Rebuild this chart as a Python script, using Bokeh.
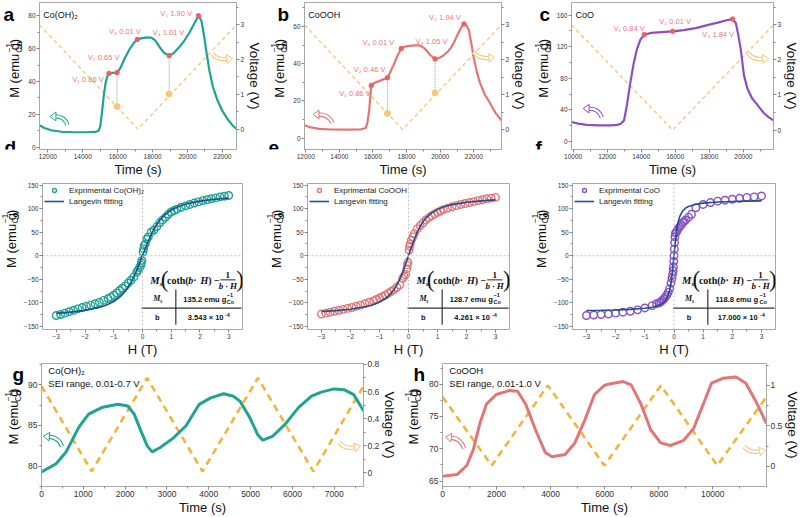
import math
from bokeh.plotting import figure
from bokeh.models import Range1d, LinearAxis, FixedTicker, Label, Span, Legend, LegendItem
from bokeh.layouts import column, row
from bokeh.embed import file_html
from bokeh.resources import INLINE

FONT = "Liberation Sans"
SERIF = "Liberation Serif"

# ---------------- data ----------------
# (a) Co(OH)2
a_time = [11520, 11800, 12200, 12800, 13500, 14200, 14700, 14900, 15000, 15100, 15200, 15300, 15400, 15503,
          15700, 15963, 16150, 16400, 16700, 16950, 17125, 17400, 17700, 17950, 18150, 18400, 18650, 18950,
          19200, 19500, 19800, 20100, 20400, 20633, 20800, 20950, 21100, 21250, 21450, 21700, 22000, 22300,
          22600, 22810]
a_M = [13.3, 11.6, 10.2, 9.3, 9.0, 9.0, 9.2, 9.8, 12.5, 21, 31, 38.5, 43, 44.9,
       45.2, 45.4, 48, 54, 60, 63.8, 65.6, 66.4, 66.8, 66.6, 65, 61, 57.5, 55.7,
       57.2, 60.5, 64.5, 69.5, 75.5, 80.0, 77, 68, 57, 47, 37, 29, 22, 17,
       13, 11]
a_vt = [11520, 17165, 22810]
a_vv = [3.0, 0.0, 3.0]
a_pt_t = [15503, 15963, 17125, 18950, 20633]
a_pt_M = [44.9, 45.4, 65.6, 55.7, 80.0]
a_pt_V = [0.86, 0.65, 0.01, 1.01, 1.90]
a_guides = [1, 3]

# (b) CoOOH
b_time = [11925, 12300, 12800, 13500, 14500, 15300, 15582, 15680, 15772, 15850, 15904, 16059, 16400, 16862,
          17050, 17207, 17494, 17683, 17900, 18165, 18500, 18739, 18950, 19118, 19405, 19692, 19950, 20175,
          20450, 20651, 20850, 21036, 21250, 21415, 21560, 21702, 21850, 21989, 22180, 22373, 22650, 22947,
          23300, 23636]
b_M = [7.0, 5.8, 5.0, 4.7, 4.6, 4.8, 5.5, 9, 15, 23, 28.4, 29.6, 30.8, 32.5,
       36, 39, 45, 48.2, 49.2, 49.6, 49.9, 49.9, 49, 47.8, 44.7, 42.6, 43.2, 44.3,
       46.5, 48.7, 52, 55.7, 59.5, 61.4, 60.5, 58.3, 51, 43.5, 35.5, 29.6, 23.5, 19.1,
       13.5, 9.6]
b_vt = [11925, 17760, 23640]
b_vv = [3.0, 0.0, 3.0]
b_pt_t = [15904, 16862, 17683, 19692, 21415]
b_pt_M = [28.4, 32.5, 48.2, 42.6, 61.4]
b_pt_V = [0.86, 0.46, 0.01, 1.05, 1.94]
b_guides = [1, 3]

# (c) CoO
c_time = [9903, 10300, 10800, 11500, 12200, 12600, 12800, 12989, 13150, 13371, 13550, 13749, 13950, 14189,
          14600, 15200, 15846, 16500, 17200, 17943, 18500, 19000, 19371, 19562, 19700, 19846, 20034, 20229,
          20500, 20800, 21200, 21500, 21771]
c_M = [24.6, 22.5, 21.0, 20.3, 20.3, 21.0, 22.5, 26.7, 45, 76, 98, 117, 129, 135.4,
       137.5, 138.5, 139.5, 141, 143.5, 147.7, 150.5, 153.5, 155, 149.7, 135, 117, 84, 67.7,
       55, 47, 36, 30.5, 26.7]
c_vt = [9903, 15846, 21780]
c_vv = [3.0, 0.0, 3.0]
c_pt_t = [14189, 15846, 19371]
c_pt_M = [135.4, 139.5, 155.0]
c_pt_V = [0.84, 0.01, 1.84]

# (d) Co(OH)2 M-H
d_H = [-3.0, -2.85, -2.7, -2.55, -2.4, -2.25, -2.1, -1.95, -1.8, -1.65, -1.5, -1.35, -1.2, -1.1, -1.0, -0.9,
       -0.8, -0.7, -0.6, -0.5, -0.4, -0.3, -0.2, -0.15, -0.1, -0.06, -0.04, -0.02, 0.02, 0.04, 0.06, 0.1,
       0.15, 0.2, 0.3, 0.4, 0.5, 0.6, 0.7, 0.8, 0.9, 1.0, 1.1, 1.2, 1.35, 1.5, 1.65, 1.8, 1.95, 2.1, 2.25,
       2.4, 2.55, 2.7, 2.85, 3.0]
d_M = [-127, -125, -122, -119, -116, -113, -110, -107.5, -105, -102, -99, -95, -91, -88, -84, -79,
       -74, -69, -64, -58, -52, -45, -35, -30, -25, -20, -15, -10, 8, 15, 22, 25,
       35, 40, 50, 55, 62, 70, 76, 82, 88, 93, 96, 99, 103, 106, 109, 112, 114.5, 117, 119,
       121, 123, 125, 126.5, 128]
d_fitH = [-3.0, -2.5, -2.0, -1.5, -1.25, -1.0, -0.75, -0.6, -0.5, -0.4, -0.3, -0.2, -0.1, 0.0,
          0.1, 0.2, 0.3, 0.4, 0.5, 0.6, 0.75, 1.0, 1.25, 1.5, 2.0, 2.5, 3.0]
d_fitM = [-122.5, -119.9, -116.1, -109.8, -104.7, -97.3, -85.6, -75.5, -66.9, -56.7, -44.6, -30.9, -15.8, 0.0,
          15.8, 30.9, 44.6, 56.7, 66.9, 75.5, 85.6, 97.3, 104.7, 109.8, 116.1, 119.9, 122.5]

# (e) CoOOH M-H
e_H = d_H
e_M = [-124, -122, -120, -118, -116, -114, -112, -110, -107.5, -105, -102, -99, -96, -93, -90, -87,
       -84, -80, -76, -72, -67, -62, -48, -44, -40, -28, -20, -14, 12, 20, 25, 33,
       40, 47, 57, 64, 70, 76, 81, 85, 89, 92, 95, 98, 101, 104, 106.5, 109, 111, 113, 115,
       117, 119, 121, 122.5, 124]
e_fitH = d_fitH
e_fitM = [-118.6, -116.6, -113.6, -108.6, -104.6, -98.5, -88.9, -79.9, -72.0, -62.0, -49.7, -34.9, -18.1, 0.0,
          18.1, 34.9, 49.7, 62.0, 72.0, 79.9, 88.9, 98.5, 104.6, 108.6, 113.6, 116.6, 118.6]

# (f) CoO M-H
f_H = [-3.0, -2.75, -2.5, -2.25, -2.0, -1.75, -1.5, -1.25, -1.0, -0.75, -0.6, -0.5, -0.45, -0.4, -0.35,
       -0.3, -0.25, -0.2, -0.15, -0.1, -0.07, -0.05, -0.03, -0.02, -0.01, 0.0, 0.01, 0.02, 0.03, 0.05,
       0.08, 0.11, 0.15, 0.2, 0.25, 0.3, 0.35, 0.4, 0.5, 0.6, 0.75, 1.0, 1.25, 1.5, 1.75, 2.0, 2.25,
       2.5, 2.75, 3.0]
f_M = [-127, -126, -125, -124, -122, -120, -118, -115, -111, -106, -102, -100, -98, -95, -92,
       -88, -84, -78, -70, -58, -48, -40, -32, -24, -12, 0, 14, 28, 40, 48,
       50, 54, 58, 62, 66, 70, 73, 76, 82, 88, 102, 109, 113, 116, 118, 120, 122,
       124, 125, 127]
f_fitH = [-3.0, -2.5, -2.0, -1.5, -1.0, -0.75, -0.5, -0.4, -0.3, -0.2, -0.15, -0.1, -0.05, -0.02, 0.0,
          0.02, 0.05, 0.1, 0.15, 0.2, 0.3, 0.4, 0.5, 0.75, 1.0, 1.5, 2.0, 2.5, 3.0]
f_fitM = [-116.5, -116.0, -115.3, -114.1, -111.8, -109.5, -104.8, -101.3, -95.5, -84.1, -73.7, -57.1, -32.1, -13.4, 0.0,
          13.4, 32.1, 57.1, 73.7, 84.1, 95.5, 101.3, 104.8, 109.5, 111.8, 114.1, 115.3, 116.0, 116.5]

ms_vals = ["135.2", "128.7", "118.8"]
b_vals = ["3.543", "4.261", "17.000"]

# (g) Co(OH)2 SEI cycling
g_time = [0, 350, 583, 739, 894, 1127, 1439, 1828, 2061, 2217, 2372, 2528, 2645, 2839, 3150, 3461, 3772,
          4044, 4356, 4589, 4744, 4978, 5172, 5289, 5522, 5833, 6144, 6456, 6689, 7000, 7233, 7466, 7700]
g_M = [79.3, 80.3, 81.7, 83.25, 84.8, 86.4, 87.2, 87.6, 87.4, 86.4, 84.4, 82.5, 81.75, 82.3, 83.45, 85.0, 87.6,
       88.4, 88.9, 88.6, 88.0, 86.0, 83.85, 83.2, 83.65, 85.2, 87.2, 88.6, 89.1, 89.5, 89.4, 88.8, 86.8]
g_vt = [0, 1200, 2525, 3850, 5175, 6500, 7700]
g_vv = [0.64, 0.01, 0.70, 0.01, 0.70, 0.01, 0.64]

# (h) CoOOH SEI cycling
h_time = [0, 535, 898, 1142, 1382, 1625, 1989, 2473, 2778, 3080, 3444, 3807, 4050, 4535, 4898, 5262, 5625,
          5989, 6135, 6680, 6982, 7345, 7709, 8073, 8436, 8924, 9287, 9651, 9953, 10378, 10862, 11225,
          11589, 11990]
h_M = [65.75, 66.0, 67.4, 69.9, 73.9, 76.9, 78.4, 79.0, 78.9, 76.9, 72.9, 69.4, 68.75, 69.1, 70.9, 74.4, 78.4,
       79.8, 80.0, 80.4, 79.9, 76.9, 72.9, 70.9, 70.5, 71.3, 73.1, 76.9, 80.15, 80.9, 81.1, 80.15,
       77.4, 73.9]
h_vt = [0, 1820, 3900, 5990, 8080, 10170, 11990]
h_vv = [0.86, 0.01, 1.0, 0.01, 1.0, 0.01, 0.86]

# ---------------- styling helpers ----------------
TEAL = "#1fa393"
RED = "#e27575"
PURPLE = "#8b4fc2"
ORANGE_L = "#f8c574"
ORANGE = "#f2b43a"
BLUE = "#1d4f91"
VLAB = "#f07878"

AW = {' ': .278, '(': .333, ')': .333, 'M': .833, 'e': .556, 'm': .833, 'u': .556, 'g': .556, 'C': .722,
      'o': .556, '−': .584, '-': .333, '.': .278, '×': .584, '1': .556, 'i': .222, 'l': .222, 't': .278,
      's': .5, 'c': .5, 'h': .556, 'b': .556, 'H': .722, 'V': .667, 'T': .611}
SW = {'c': .444, 'o': .5, 't': .333, 'h': .556, '(': .333, ')': .333, ' ': .25, '·': .25, '−': .57,
      '1': .5, 'b': .5, 'H': .778, 'M': .944, 's': .389}


def tw(s, size, k=1.0):
    return sum(AW.get(ch, .556) for ch in s) * size * k


def sw(s, size):
    return sum(SW.get(ch, .5) for ch in s) * size


class Mapper:
    def __init__(self, fl, ft, fr, fb, xr, yr):
        self.fl, self.ft, self.fr, self.fb = fl, ft, fr, fb
        self.xr, self.yr = xr, yr

    def d(self, X, Y):
        x0, x1 = self.xr
        y0, y1 = self.yr
        return (x0 + (X - self.fl) / (self.fr - self.fl) * (x1 - x0),
                y1 - (Y - self.ft) / (self.fb - self.ft) * (y1 - y0))


class Panel(Mapper):
    def __init__(self, ox, oy, w, h, fl, ft, fr, fb, xr, yr, vr=None):
        super().__init__(fl, ft, fr, fb, xr, yr)
        self.vr = vr
        p = figure(width=w, height=h, x_range=Range1d(*xr), y_range=Range1d(*yr),
                   output_backend="svg", toolbar_location=None,
                   min_border_left=fl - ox, min_border_right=ox + w - fr,
                   min_border_top=ft - oy, min_border_bottom=oy + h - fb)
        p.xgrid.visible = False
        p.ygrid.visible = False
        p.outline_line_color = "#a8a8a8"
        p.outline_line_width = 1
        p.background_fill_color = "white"
        p.border_fill_color = "white"
        self.vax = None
        if vr is not None:
            p.extra_y_ranges = {"v": Range1d(*vr)}
            ax = LinearAxis(y_range_name="v")
            p.add_layout(ax, "right")
            self.vax = ax
        self.p = p

    def v2m(self, v):
        y0, y1 = self.yr
        v0, v1 = self.vr
        return y0 + (v - v0) * (y1 - y0) / (v1 - v0)


class Strip:
    """A bare figure used only to hold text that sits outside a plot frame."""
    def __init__(self, ox, oy, w, h):
        s = figure(width=w, height=h, x_range=Range1d(0, w), y_range=Range1d(0, h),
                   output_backend="svg", toolbar_location=None, x_axis_type=None, y_axis_type=None,
                   min_border_left=0, min_border_right=0, min_border_top=0, min_border_bottom=0)
        s.outline_line_color = None
        s.background_fill_color = "white"
        s.border_fill_color = "white"
        self.p = s
        self.ox, self.oy, self.h = ox, oy, h

    def d(self, X, Y):
        return (X - self.ox, self.h - (Y - self.oy))


def style_axis(ax, ticks, minor, fs, title=None, tsize=13, tstand=0):
    ax.ticker = FixedTicker(ticks=ticks, minor_ticks=minor)
    ax.major_label_text_font_size = f"{fs}px"
    ax.major_label_text_font = FONT
    ax.major_label_text_color = "#333333"
    ax.axis_line_color = "#a8a8a8"
    ax.major_tick_line_color = "#888888"
    ax.minor_tick_line_color = "#888888"
    ax.major_tick_in = 0
    ax.major_tick_out = 3
    ax.minor_tick_in = 0
    ax.minor_tick_out = 2
    ax.major_label_standoff = 1
    if title:
        ax.axis_label = title
        ax.axis_label_text_font = FONT
        ax.axis_label_text_font_size = f"{tsize}px"
        ax.axis_label_text_font_style = "normal"
        ax.axis_label_text_color = "#111111"
        ax.axis_label_standoff = tstand


def lab(P, X, Y, text, size, color="#111111", align="left", base="middle", angle=0.0, font=FONT, style="normal"):
    x, y = P.d(X, Y)
    P.p.add_layout(Label(x=x, y=y, text=text, text_font=font, text_font_size=f"{size}px",
                         text_font_style=style, text_color=color, text_align=align,
                         text_baseline=base, angle=angle))


def mlabel(S, Xc, Yc, size=13):
    s2 = size * 0.66
    wm = tw("M (emu g", size)
    ws = max(tw("Co", s2), tw("−1", s2))
    wp = tw(")", size)
    L = wm + ws + wp
    start = Yc + L / 2
    A = start - wm
    lab(S, Xc, start, "M (emu g", size, angle=math.pi / 2)
    lab(S, Xc + 4.0, A, "Co", s2, angle=math.pi / 2)
    lab(S, Xc - 6.0, A, "−1", s2, angle=math.pi / 2)
    lab(S, Xc, A - ws - 0.5, ")", size, angle=math.pi / 2)


def curly(P, tail, ctrl, end, color):
    p = P.p
    x0, y0 = P.d(*tail)
    cx, cy = P.d(*ctrl)
    x1, y1 = P.d(*end)
    p.quadratic(x0=[x0], y0=[y0], x1=[x1], y1=[y1], cx=[cx], cy=[cy], line_color=color, line_width=4.4)
    p.quadratic(x0=[x0], y0=[y0], x1=[x1], y1=[y1], cx=[cx], cy=[cy], line_color="white", line_width=2.2)
    dx, dy = end[0] - ctrl[0], end[1] - ctrl[1]
    n = math.hypot(dx, dy)
    dx, dy = dx / n, dy / n
    px, py = -dy, dx
    tip = (end[0] + dx * 6, end[1] + dy * 6)
    b1 = (end[0] + px * 4.5, end[1] + py * 4.5)
    b2 = (end[0] - px * 4.5, end[1] - py * 4.5)
    pts = [P.d(*q) for q in (tip, b1, b2)]
    p.patch([q[0] for q in pts], [q[1] for q in pts], fill_color="white", line_color=color, line_width=1)


SUBS = "₁₂₃₄₅"

# ---------------- row 1: operando panels (y 0..179) ----------------
R1 = (0, 179)
row1 = []
specs1 = [
    dict(sx=0, sw=25, ox=25, w=240, fl=38, fr=242, xr=(11520, 22810), yr=(-1.5, 88.1), vr=(-0.587, 3.643),
         t=a_time, M=a_M, vt=a_vt, vv=a_vv, pt=a_pt_t, pM=a_pt_M, pV=a_pt_V, guides=a_guides,
         col=TEAL, name="Co(OH)₂", letter=("a", 3), letter2=("d", 4), mx=14,
         xt=[12000, 14000, 16000, 18000, 20000, 22000], yt=[0, 20, 40, 60, 80], ystep=10,
         vlabels=[(72, 81), (88, 58), (110, 32), (155, 33), (163, 13)],
         arrows=[((67, 128), (64, 119), (55, 119)), ((217, 55), (222, 61), (232, 60))]),
    dict(sx=265, sw=25, ox=290, w=240, fl=303, fr=507, xr=(11925, 23647), yr=(-6.05, 72.9), vr=(-0.574, 3.641),
         t=b_time, M=b_M, vt=b_vt, vv=b_vv, pt=b_pt_t, pM=b_pt_M, pV=b_pt_V, guides=b_guides,
         col=RED, name="CoOOH", letter=("b", 277), letter2=("e", 268), mx=279,
         xt=[12000, 14000, 16000, 18000, 20000, 22000], yt=[0, 20, 40, 60], ystep=10,
         vlabels=[(339, 95), (354, 71), (363, 43), (418, 42), (432, 17)],
         arrows=[((332, 126), (328, 117), (318, 117)), ((478, 53), (484, 60), (494, 59))]),
    dict(sx=530, sw=23, ox=553, w=250, fl=566, fr=773, xr=(9903, 21771), yr=(-10.2, 176.0), vr=(-0.555, 3.637),
         t=c_time, M=c_M, vt=c_vt, vv=c_vv, pt=c_pt_t, pM=c_pt_M, pV=c_pt_V, guides=[],
         col=PURPLE, name="CoO", letter=("c", 539), letter2=("f", 535), mx=543,
         xt=[10000, 12000, 14000, 16000, 18000, 20000], yt=[0, 40, 80, 120, 160], ystep=20,
         vlabels=[(609, 29), (656, 22), (700, 35)],
         arrows=[((597, 120), (594, 111), (584, 111)), ((747, 54), (752, 61), (762, 60))]),
]

for s in specs1:
    S = Strip(s["sx"], R1[0], s["sw"], R1[1] - R1[0])
    P = Panel(s["ox"], R1[0], s["w"], R1[1] - R1[0], s["fl"], 2, s["fr"], 153, s["xr"], s["yr"], s["vr"])
    p = P.p
    xminor = list(range(int(s["xr"][0] // 1000) * 1000, int(s["xr"][1]) + 1, 1000))
    style_axis(p.xaxis[0], s["xt"], xminor, 6.5, title="Time (s)", tsize=13)
    ymin = list(range(0, int(s["yr"][1]) + 1, s["ystep"]))
    style_axis(p.yaxis[0], s["yt"], ymin, 6.5)
    style_axis(P.vax, [0, 1, 2, 3], [0, 0.5, 1, 1.5, 2, 2.5, 3, 3.5], 6.5, title="Voltage (V)", tsize=13.5)
    # voltage
    p.line(s["vt"], s["vv"], y_range_name="v", line_color=ORANGE_L, line_width=1.3, line_dash="4 3")
    # guide lines
    gi = s["guides"]
    for i in gi:
        p.segment(x0=[s["pt"][i]], y0=[s["pM"][i]], x1=[s["pt"][i]], y1=[P.v2m(s["pV"][i])],
                  line_color="#9a9a9a", line_width=1, line_dash="1 1")
    if gi:
        p.scatter([s["pt"][i] for i in gi], [s["pV"][i] for i in gi], y_range_name="v",
                  size=6, color="#f8c57a", marker="circle")
    # magnetisation
    p.line(s["t"], s["M"], line_color=s["col"], line_width=2.2)
    p.scatter(s["pt"], s["pM"], size=4.5, color="#ef6060", marker="circle")
    for i, (X, Y) in enumerate(s["vlabels"]):
        lab(P, X, Y, f"V{SUBS[i]}  {s['pV'][i]:.2f} V", 7.5, color=VLAB)
    curly(P, *s["arrows"][0], s["col"])
    curly(P, *s["arrows"][1], ORANGE_L)
    lab(P, s["fl"] + 4, 15, s["name"], 9)
    # outside-frame texts
    mlabel(S, s["mx"], 81)
    lab(S, s["letter"][1], 15, s["letter"][0], 19, color="black", base="alphabetic", style="bold")
    lab(S, s["letter2"][1], 176, s["letter2"][0], 19, color="black", base="alphabetic", style="bold")
    row1 += [S.p, p]

# ---------------- row 2: M-H panels (y 179..359) ----------------
R2 = (179, 359)
row2 = []
specs2 = [
    dict(sx=0, sw=20, ox=20, w=245, fl=38, fr=242, H=d_H, M=d_M, fH=d_fitH, fM=d_fitM, col=TEAL,
         leg="Exprimental Co(OH)₂", ms=ms_vals[0], bv=b_vals[0], mx=10.5),
    dict(sx=265, sw=20, ox=285, w=245, fl=302, fr=509, H=e_H, M=e_M, fH=e_fitH, fM=e_fitM, col=RED,
         leg="Exprimental CoOOH", ms=ms_vals[1], bv=b_vals[1], mx=275.5),
    dict(sx=530, sw=20, ox=550, w=253, fl=568, fr=775, H=f_H, M=f_M, fH=f_fitH, fM=f_fitM, col=PURPLE,
         leg="Exprimental CoO", ms=ms_vals[2], bv=b_vals[2], mx=540.5),
]
XR2 = (-3.48, 3.48)
YR2 = (-156.8, 153.5)
Pref = Mapper(38, 183, 242, 333, XR2, YR2)

for s in specs2:
    S = Strip(s["sx"], R2[0], s["sw"], R2[1] - R2[0])
    P = Panel(s["ox"], R2[0], s["w"], R2[1] - R2[0], s["fl"], 183, s["fr"], 333, XR2, YR2)
    p = P.p
    style_axis(p.xaxis[0], [-3, -2, -1, 0, 1, 2, 3], [-3, -2.5, -2, -1.5, -1, -0.5, 0, 0.5, 1, 1.5, 2, 2.5, 3],
               6.5, title="H (T)", tsize=13)
    style_axis(p.yaxis[0], [-150, -100, -50, 0, 50, 100, 150],
               [-150, -125, -100, -75, -50, -25, 0, 25, 50, 75, 100, 125, 150], 6.5)
    p.add_layout(Span(location=0, dimension="height", line_color="#b0b0b0", line_width=0.8, line_dash="2 2"))
    p.add_layout(Span(location=0, dimension="width", line_color="#b0b0b0", line_width=0.8, line_dash="2 2"))
    r1 = p.scatter(s["H"], s["M"], marker="circle", size=7.5, fill_color=None, line_color=s["col"], line_width=1.4)
    r2 = p.line(s["fH"], s["fM"], line_color=BLUE, line_width=1.6)
    leg = Legend(items=[LegendItem(label=s["leg"], renderers=[r1]),
                        LegendItem(label="Langevin fitting", renderers=[r2])],
                 location="top_left", margin=0, padding=2, spacing=1, glyph_width=20, glyph_height=10,
                 label_height=10, label_standoff=5, label_text_font_size="8px", label_text_font=FONT,
                 label_text_color="#222222", border_line_alpha=0, background_fill_alpha=0)
    p.add_layout(leg)

    def dl(X, Y, text, size, **kw):
        x, y = Pref.d(X, Y)
        p.add_layout(Label(x=x, y=y, text=text, text_font_size=f"{size}px",
                           text_baseline=kw.get("base", "middle"), text_align=kw.get("align", "left"),
                           text_font=kw.get("font", FONT), text_font_style=kw.get("style", "normal"),
                           text_color="#111111"))

    # formula
    dl(148, 283, "M", 10.5, font=SERIF, style="bold italic")
    dl(157.5, 286, "s", 7, font=SERIF, style="bold italic")
    dl(158.5, 282, "(", 23, font=SERIF)
    x = 165.0
    for txt, st in [("coth(", "bold"), ("b", "bold italic"), (" · ", "bold"), ("H", "bold italic"), (") −", "bold")]:
        dl(x, 283, txt, 10, font=SERIF, style=st)
        x += sw(txt, 10)
    dl(227, 276.5, "1", 9, font=SERIF, style="bold", align="center")
    dl(227, 288.5, "b · H", 9, font=SERIF, style="bold italic", align="center")
    fx0, fy = Pref.d(219.5, 282)
    fx1, _ = Pref.d(235, 282)
    p.segment(x0=[fx0], y0=[fy], x1=[fx1], y1=[fy], line_color="#111111", line_width=0.9)
    dl(235.5, 282, ")", 23, font=SERIF)
    # table
    hx0, hy = Pref.d(139, 311)
    hx1, _ = Pref.d(241, 311)
    p.segment(x0=[hx0], y0=[hy], x1=[hx1], y1=[hy], line_color="#333333", line_width=1.2)
    vx, vy0 = Pref.d(174, 292)
    _, vy1 = Pref.d(174, 328)
    p.segment(x0=[vx], y0=[vy0], x1=[vx], y1=[vy1], line_color="#333333", line_width=1.2)
    dl(151, 301.5, "M", 8, font=SERIF, style="bold italic")
    dl(158, 303.5, "s", 5.5, font=SERIF, style="bold italic")
    dl(155, 320.5, "b", 7.5, style="bold", align="center")
    main = f"{s['ms']} emu g"
    wmain = tw(main, 7.5, 1.06)
    x0 = 207.5 - (wmain + tw("Co", 5.5, 1.06)) / 2
    dl(x0, 302, main, 7.5, style="bold")
    dl(x0 + wmain, 304.5, "Co", 5.5, style="bold")
    dl(x0 + wmain, 298, "−1", 5.5, style="bold")
    bmain = f"{s['bv']} × 10"
    wb = tw(bmain, 7.5, 1.06)
    x0 = 207.5 - (wb + tw("-4", 5, 1.06)) / 2
    dl(x0, 321, bmain, 7.5, style="bold")
    dl(x0 + wb + 0.5, 318, "-4", 5, style="bold")
    mlabel(S, s["mx"], 248)
    row2 += [S.p, p]

# ---------------- row 3: SEI cycling (y 359..517) ----------------
R3 = (359, 517)
row3 = []
specs3 = [
    dict(sx=0, sw=25, ox=25, w=375, fl=40, fr=370, xr=(0, 7700), yr=(77.5, 92.62), vr=(-0.102, 0.807),
         t=g_time, M=g_M, vt=g_vt, vv=g_vv, col=TEAL, letter=("g", 12), name="Co(OH)₂",
         sei="SEI range, 0.01-0.7 V", mx=13,
         xt=[0, 1000, 2000, 3000, 4000, 5000, 6000, 7000], xm=list(range(0, 7701, 500)),
         yt=[80, 85, 90], ym=[77.5, 80, 82.5, 85, 87.5, 90, 92.5],
         vtk=[0.0, 0.2, 0.4, 0.6, 0.8], vm=[0, 0.1, 0.2, 0.3, 0.4, 0.5, 0.6, 0.7, 0.8],
         arrows=[((61, 448), (58, 439), (48, 438)), ((345, 444), (351, 451), (361, 449))]),
    dict(sx=400, sw=26, ox=426, w=377, fl=441, fr=771, xr=(0, 11990), yr=(64.15, 83.2), vr=(-0.248, 1.27),
         t=h_time, M=h_M, vt=h_vt, vv=h_vv, col=RED, letter=("h", 413), name="CoOOH",
         sei="SEI range, 0.01-1.0 V", mx=413,
         xt=[0, 2000, 4000, 6000, 8000, 10000], xm=list(range(0, 11991, 1000)),
         yt=[65, 70, 75, 80], ym=[65, 67.5, 70, 72.5, 75, 77.5, 80, 82.5],
         vtk=[0.0, 0.5, 1.0], vm=[0, 0.25, 0.5, 0.75, 1.0, 1.25],
         arrows=[((463, 450), (460, 440), (450, 439)), ((748, 448), (754, 455), (764, 453))]),
]
for s in specs3:
    S = Strip(s["sx"], R3[0], s["sw"], R3[1] - R3[0])
    P = Panel(s["ox"], R3[0], s["w"], R3[1] - R3[0], s["fl"], 363, s["fr"], 489, s["xr"], s["yr"], s["vr"])
    p = P.p
    style_axis(p.xaxis[0], s["xt"], s["xm"], 8.5, title="Time (s)", tsize=13)
    style_axis(p.yaxis[0], s["yt"], s["ym"], 8.5)
    style_axis(P.vax, s["vtk"], s["vm"], 8.5, title="Voltage (V)", tsize=13.5)
    p.line(s["vt"], s["vv"], y_range_name="v", line_color=ORANGE, line_width=2.6, line_dash="7 5")
    p.line(s["t"], s["M"], line_color=s["col"], line_width=3)
    curly(P, *s["arrows"][0], s["col"])
    curly(P, *s["arrows"][1], ORANGE_L)
    lab(P, s["fl"] + 7, 370, s["name"], 9.5)
    lab(P, s["fl"] + 7, 383, s["sei"], 9.5)
    mlabel(S, s["mx"], 428)
    lab(S, s["letter"][1], 373, s["letter"][0], 19, color="black", base="alphabetic", style="bold")
    row3 += [S.p, p]

layout = column(row(*row1), row(*row2), row(*row3))
open("out.html", "w").write(file_html(layout, INLINE))
